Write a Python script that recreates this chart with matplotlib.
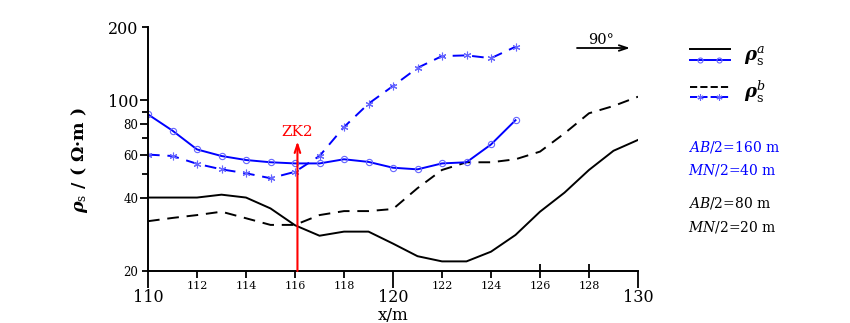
import numpy as np
import matplotlib
matplotlib.use("Agg")
import matplotlib.pyplot as plt
from matplotlib.lines import Line2D
from matplotlib.legend_handler import HandlerBase
from matplotlib.ticker import FixedLocator, FixedFormatter, NullFormatter

plt.rcParams['font.family'] = 'DejaVu Serif'
plt.rcParams['mathtext.fontset'] = 'dejavuserif'

# data
x_blue = np.arange(110, 126)
x_black = np.arange(110, 131)
rho_a_160 = [87.7, 75.2, 63.0, 59.2, 57.0, 55.8, 55.2, 55.2, 57.4, 56.0, 53.0, 52.2, 55.2, 55.8, 66.0, 83.0]
rho_b_160 = [60.0, 59.2, 55.0, 52.2, 50.3, 48.0, 51.0, 59.2, 77.8, 97.0, 114.6, 136.0, 152.0, 153.0, 149.0, 166.0]
rho_a_80 = [40.0, 40.0, 40.0, 41.1, 40.0, 36.1, 30.8, 27.9, 29.0, 29.0, 25.9, 23.0, 21.9, 21.9, 24.0, 28.1,
            35.0, 41.9, 51.9, 62.2, 68.9]
rho_b_80 = [32.0, 33.0, 33.9, 35.0, 32.9, 30.9, 30.9, 33.9, 35.2, 35.2, 35.9, 43.7, 51.9, 55.8, 55.8, 57.4,
            61.7, 73.3, 88.6, 94.9, 103.6]
zk2_x = 116.1
zk2_top = 68

x_major = [110, 120, 130]
x_minor = [112, 114, 116, 118, 122, 124, 126, 128]
y_major = [20, 40, 60, 80, 100, 200]
y_minor = [50, 70, 90]

BLUE = '#0000ff'
MK = '#6666ff'


class HandlerStack(HandlerBase):
    # two lines stacked on top of each other in one legend entry
    def create_artists(self, legend, orig_handle, xdescent, ydescent, width, height, fontsize, trans):
        arts = []
        n = len(orig_handle)
        for i, h in enumerate(orig_handle):
            y = -ydescent + height * (1 - (i + 0.5) / n)
            ln = Line2D([-xdescent, width - xdescent], [y, y], color=h.get_color(),
                        linestyle=h.get_linestyle(), linewidth=h.get_linewidth())
            ln.set_transform(trans)
            arts.append(ln)
            if h.get_marker() not in (None, 'None', ''):
                mk = Line2D([-xdescent + 0.25 * width, -xdescent + 0.72 * width], [y, y],
                            linestyle='none', marker=h.get_marker(), markersize=h.get_markersize() * 0.8,
                            markerfacecolor='none', markeredgecolor=h.get_markeredgecolor(),
                            markeredgewidth=h.get_markeredgewidth())
                mk.set_transform(trans)
                arts.append(mk)
        return arts


fig = plt.figure(figsize=(8.5, 3.23), dpi=100)
ax = fig.add_axes([148 / 850, 1 - 271 / 323, 490 / 850, 244 / 323])

l_a80, = ax.plot(x_black, rho_a_80, color='black', lw=1.4)
l_b80, = ax.plot(x_black, rho_b_80, color='black', lw=1.4, ls=(0, (6, 4)))
l_a160, = ax.plot(x_blue, rho_a_160, color=BLUE, lw=1.4, marker='o', ms=4.5,
                  mfc='none', mec=MK, mew=0.8)
l_b160, = ax.plot(x_blue, rho_b_160, color=BLUE, lw=1.4, ls=(0, (6, 4)), marker=(6, 2, 0), ms=5.5,
                  mec=MK, mew=0.8)

ax.annotate('', xy=(zk2_x, zk2_top), xytext=(zk2_x, 20),
            arrowprops=dict(arrowstyle='->,head_length=0.6,head_width=0.2', color='red', lw=1.5,
                            shrinkA=0, shrinkB=0))
ax.annotate('ZK2', xy=(zk2_x, zk2_top), xytext=(0, 2), textcoords='offset points',
            color='red', fontsize=11, ha='center', va='bottom')

ax.set_yscale('log')
ax.set_xlim(110, 130)
ax.set_ylim(20, 200)
for s in ['top', 'right']:
    ax.spines[s].set_visible(False)
for s in ['left', 'bottom']:
    ax.spines[s].set_linewidth(1.4)

ax.xaxis.set_major_locator(FixedLocator(x_major))
ax.xaxis.set_major_formatter(FixedFormatter([str(v) for v in x_major]))
ax.xaxis.set_minor_locator(FixedLocator(x_minor))
ax.xaxis.set_minor_formatter(FixedFormatter([str(v) for v in x_minor]))
ax.tick_params(axis='x', which='major', direction='out', length=12, width=1.3, pad=1, labelsize=11.5)
ax.tick_params(axis='x', which='minor', direction='out', length=5, width=1.3, pad=2.5, labelsize=8)

ax.yaxis.set_major_locator(FixedLocator(y_major))
ax.yaxis.set_major_formatter(FixedFormatter([str(v) for v in y_major]))
ax.yaxis.set_minor_locator(FixedLocator(y_minor))
ax.yaxis.set_minor_formatter(NullFormatter())
ax.tick_params(axis='y', which='major', direction='out', length=6, width=1.3, pad=1, labelsize=8.5)
ax.tick_params(axis='y', which='minor', direction='out', length=4, width=1.3)

# per tick tweaks
for t, v in zip(ax.yaxis.get_major_ticks(len(y_major)), y_major):
    if v >= 100:
        t.label1.set_fontsize(11.5)
    if v in (20, 200):
        t.tick1line.set_markersize(4)
for t, v in zip(ax.xaxis.get_minor_ticks(len(x_minor)), x_minor):
    if v >= 126:
        t.tick1line.set_marker('|')
        t.tick1line.set_markersize(10)

ax.set_xlabel('x/m', fontsize=12, labelpad=1)
fig.text(80 / 850, 1 - 160 / 323, r'$\mathbfit{\rho}_{\mathrm{s}}$ / ( Ω·m )', rotation=90,
         fontsize=12.5, fontweight='bold', ha='center', va='center')

# direction arrow
ax.annotate('', xy=(630 / 850, 1 - 48 / 323), xytext=(577 / 850, 1 - 48 / 323),
            xycoords='figure fraction', textcoords='figure fraction',
            arrowprops=dict(arrowstyle='->,head_length=0.6,head_width=0.2', color='black', lw=1.3,
                            shrinkA=0, shrinkB=0), annotation_clip=False)
fig.text(601 / 850, 1 - 40 / 323, '90°', fontsize=10.5, ha='center', va='center')

fig.legend([(l_a80, l_a160), (l_b80, l_b160)],
           [r'$\mathbfit{\rho}_{\mathrm{s}}^{a}$', r'$\mathbfit{\rho}_{\mathrm{s}}^{b}$'],
           handler_map={tuple: HandlerStack()}, loc='upper left',
           bbox_to_anchor=(690 / 850, 1 - 44 / 323), frameon=False, fontsize=13,
           handlelength=2.2, handleheight=1.4, handletextpad=0.8, labelspacing=0.65,
           borderpad=0, borderaxespad=0)

fig.text(688 / 850, 1 - 147 / 323, r'$AB$/2=160 m', color=BLUE, fontsize=10, va='center')
fig.text(688 / 850, 1 - 170 / 323, r'$MN$/2=40 m', color=BLUE, fontsize=10, va='center')
fig.text(688 / 850, 1 - 203 / 323, r'$AB$/2=80 m', color='black', fontsize=10, va='center')
fig.text(688 / 850, 1 - 227 / 323, r'$MN$/2=20 m', color='black', fontsize=10, va='center')

fig.savefig('out.png', dpi=100)
